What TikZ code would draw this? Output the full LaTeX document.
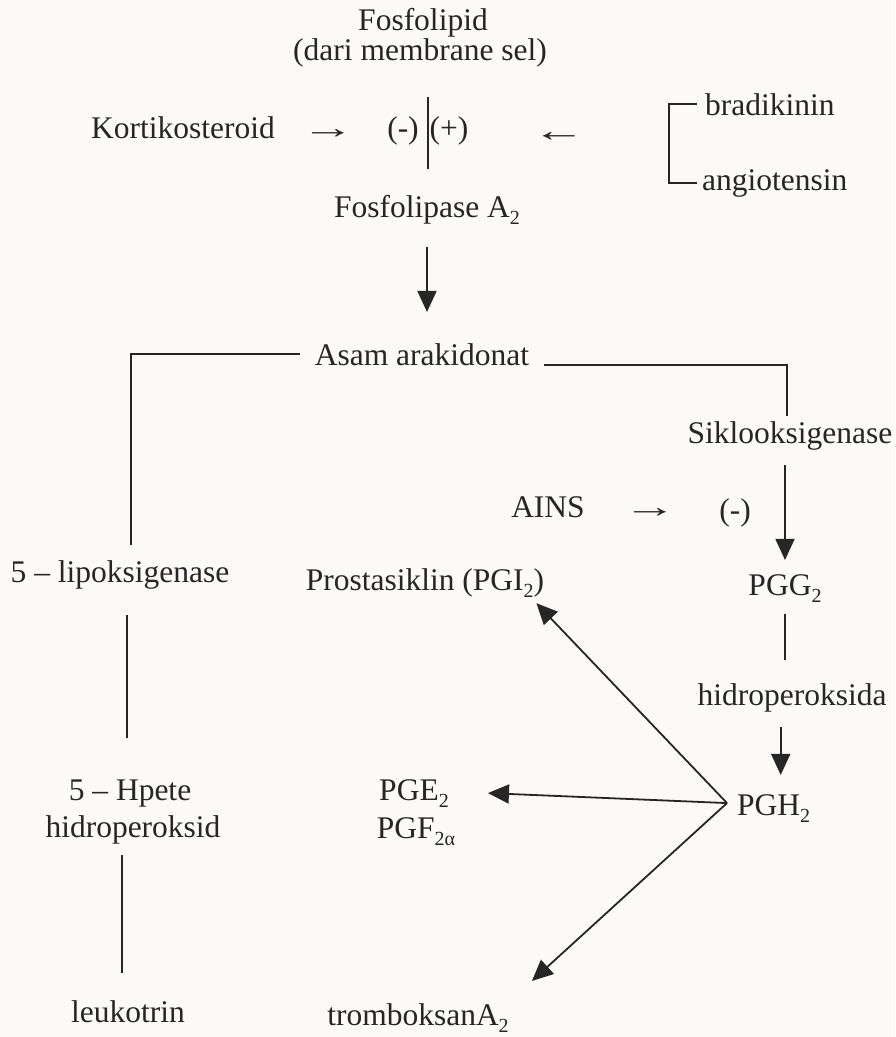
\documentclass[tikz,border=0pt]{standalone}
\usepackage{fontspec}
\usepackage{graphicx}
\setmainfont{Liberation Serif}
\usetikzlibrary{arrows.meta}
\definecolor{ink}{HTML}{262626}
\definecolor{paper}{HTML}{FBFAF7}
\newcommand\lowidx[1]{\raisebox{-7pt}{\fontsize{20}{20}\selectfont #1}}
\newcommand\rarr{\scalebox{1.7}[1]{→}}
\newcommand\larr{\scalebox{1.7}[1]{←}}
\begin{document}
\begin{tikzpicture}[x=1pt,y=-1pt,
  txt/.style={inner sep=0pt, anchor=base, text=ink, font=\fontsize{31.5}{37}\selectfont},
  ln/.style={draw=ink, line width=1.8pt},
  arr/.style={ln, -{Triangle[length=21pt,width=19pt]}}]
\fill[paper] (0,0) rectangle (895,1037);
\useasboundingbox (0,0) rectangle (895,1037);
% nodes
\node[txt] (fos1) at (423,30) {Fosfolipid};
\node[txt] (fos2) at (420,60) {(dari membrane sel)};
\node[txt] (kort) at (183,138) {Kortikosteroid};
\node[txt] (arrK) at (328,138) {\rarr};
\node[txt] (neg1) at (403,138) {(-)};
\node[txt] (pos1) at (449,138) {(+)};
\node[txt] (arrB) at (559,141) {\larr};
\node[txt, anchor=base west] (brad) at (705,115) {bradikinin};
\node[txt, anchor=base west] (angio) at (702,190) {angiotensin};
\node[txt] (fosA) at (427,217) {Fosfolipase A\lowidx{2}};
\node[txt] (asam) at (422,365) {Asam arakidonat};
\node[txt] (siklo) at (790,443) {Siklooksigenase};
\node[txt] (ains) at (548,517) {AINS};
\node[txt] (arrA) at (650,517) {\rarr};
\node[txt] (neg2) at (735,520) {(-)};
\node[txt] (lipo) at (120,582) {5 – lipoksigenase};
\node[txt] (prost) at (425,590) {Prostasiklin (PGI\lowidx{2})};
\node[txt] (pgg) at (785,595) {PGG\lowidx{2}};
\node[txt] (hidA) at (792,705) {hidroperoksida};
\node[txt, anchor=base west] (pgh) at (737,815) {PGH\lowidx{2}};
\node[txt] (hpete) at (130,800) {5 – Hpete};
\node[txt] (hidro) at (133,837) {hidroperoksid};
\node[txt] (pge) at (414,800) {PGE\lowidx{2}};
\node[txt] (pgf) at (416,838) {PGF\lowidx{2α}};
\node[txt] (leuko) at (128,1022) {leukotrin};
\node[txt] (trom) at (418,1025) {tromboksanA\lowidx{2}};
% bar between (-) and (+)
\coordinate (barX) at (428,0);
\draw[ln, shorten <=30pt, shorten >=26pt] (fos2.south -| barX) -- (fosA.north -| barX);
% bracket
\draw[ln] ([xshift=-8pt]brad.west) -- ++(-28pt,0) |- ([xshift=-5pt]angio.west);
% main arrow
\draw[arr, shorten <=23pt, shorten >=31pt] (fosA.south) -- (fosA.south |- asam.north);
% branches
\coordinate (lipoTop) at ([xshift=11pt, yshift=15pt]lipo.north);
\draw[ln] ([xshift=-15pt]asam.west) -| (lipoTop);
\coordinate (sikTop) at ([xshift=-3pt, yshift=5pt]siklo.north);
\draw[ln] ([xshift=15pt]asam.base east) -| (sikTop);
% cyclooxygenase path
\draw[arr, shorten <=15pt, shorten >=14pt] (pgg.north |- siklo.south) -- (pgg.north);
\draw[ln, shorten <=12pt, shorten >=23pt] (pgg.south) -- (pgg.south |- hidA.north);
\coordinate (pghTop) at ([xshift=7pt]pgh.north);
\draw[arr, shorten <=15pt, shorten >=19pt] (pghTop |- hidA.south) -- (pghTop);
% fan from PGH2
\coordinate (vx) at ([xshift=-10pt, yshift=5pt]pgh.west);
\draw[arr] (vx) -- ([xshift=-8pt, yshift=-6pt]prost.south east);
\draw[arr] (vx) -- ([xshift=39pt]pge.east);
\draw[arr] (vx) -- ([xshift=23pt, yshift=22pt]trom.north east);
% lipoxygenase path
\coordinate (lipoBot) at ([xshift=7pt]lipo.south);
\draw[ln, shorten <=26pt, shorten >=41pt] (lipoBot) -- (lipoBot |- hpete.north);
\coordinate (leukTop) at ([xshift=-6pt]leuko.north);
\draw[ln, shorten <=11pt, shorten >=27pt] (leukTop |- hidro.south) -- (leukTop);
\end{tikzpicture}
\end{document}
